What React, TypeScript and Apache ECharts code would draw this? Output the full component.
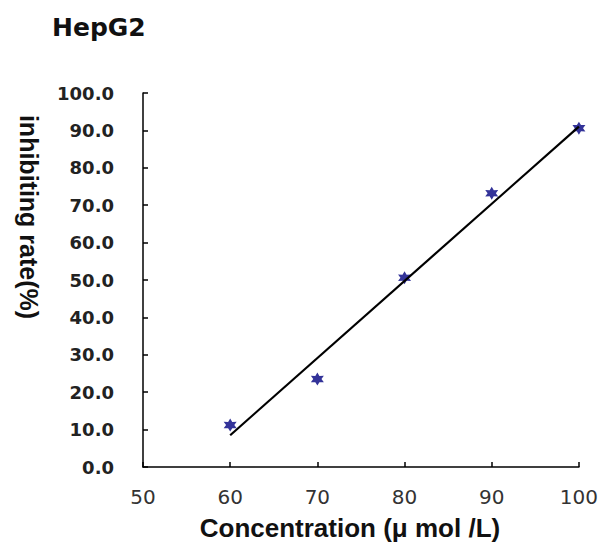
import React, { useEffect, useRef } from "react";
import * as echarts from "echarts";

const titleText = "HepG2";
const xName = "Concentration (μ mol /L)";
const yName = "inhibiting rate(%)";
const concentrations = [60, 70, 80, 90, 100];
const inhibition = [11.2, 23.5, 50.6, 73.2, 90.6];
const trendX = [60, 100];
const trendY = [8.5, 91.0];

const starPath =
  "path://M0,-10 L2.75,-4.76 L8.66,-5 L5.5,0 L8.66,5 L2.75,4.76 L0,10 L-2.75,4.76 L-8.66,5 L-5.5,0 L-8.66,-5 L-2.75,-4.76 Z";

export default function App() {
  const ref = useRef<HTMLDivElement>(null);
  useEffect(() => {
    if (!ref.current) return;
    const chart = echarts.init(ref.current, undefined, { renderer: "svg" });
    chart.setOption({
      animation: false,
      backgroundColor: "#ffffff",
      title: {
        text: titleText,
        left: 39,
        top: 2,
        textStyle: {
          fontFamily: "DejaVu Sans",
          fontWeight: "bold",
          fontSize: 25,
          color: "#111",
        },
      },
      grid: { left: 131, right: 16, top: 85, bottom: 76, containLabel: false },
      xAxis: {
        type: "value",
        min: 50,
        max: 100,
        interval: 10,
        name: xName,
        nameLocation: "middle",
        nameGap: 48,
        nameTextStyle: {
          fontFamily: "Liberation Sans",
          fontWeight: "bold",
          fontSize: 26,
          color: "#111",
          padding: [0, 22, 0, 0],
        },
        axisLine: { lineStyle: { color: "#000", width: 1.5 } },
        axisTick: { inside: true, length: 5, lineStyle: { color: "#000", width: 1.5 } },
        axisLabel: {
          margin: 20,
          fontFamily: "DejaVu Sans",
          fontSize: 20,
          color: "#333",
        },
        splitLine: { show: false },
      },
      yAxis: {
        type: "value",
        min: 0,
        max: 100,
        interval: 10,
        name: yName,
        nameLocation: "middle",
        nameRotate: -90,
        nameGap: 102,
        nameTextStyle: {
          fontFamily: "Liberation Sans",
          fontWeight: "bold",
          fontSize: 25,
          color: "#111",
          padding: [0, 126, 0, 0],
        },
        axisLine: { lineStyle: { color: "#000", width: 1.5 } },
        axisTick: { inside: true, length: 5, lineStyle: { color: "#000", width: 1.5 } },
        axisLabel: {
          margin: 29,
          fontFamily: "DejaVu Sans",
          fontWeight: "bold",
          fontSize: 18,
          color: "#222",
          formatter: (v: number) => v.toFixed(1),
        },
        splitLine: { show: false },
      },
      series: [
        {
          type: "scatter",
          data: concentrations.map((x, i) => [x, inhibition[i]]),
          symbol: starPath,
          symbolSize: 13,
          itemStyle: { color: "#000080" },
          z: 2,
        },
        {
          type: "line",
          data: trendX.map((x, i) => [x, trendY[i]]),
          showSymbol: false,
          symbol: "none",
          lineStyle: { color: "#000", width: 2.2 },
          z: 3,
        },
      ],
    });
    return () => chart.dispose();
  }, []);
  return <div ref={ref} style={{ width: 593, height: 538 }} />;
}
